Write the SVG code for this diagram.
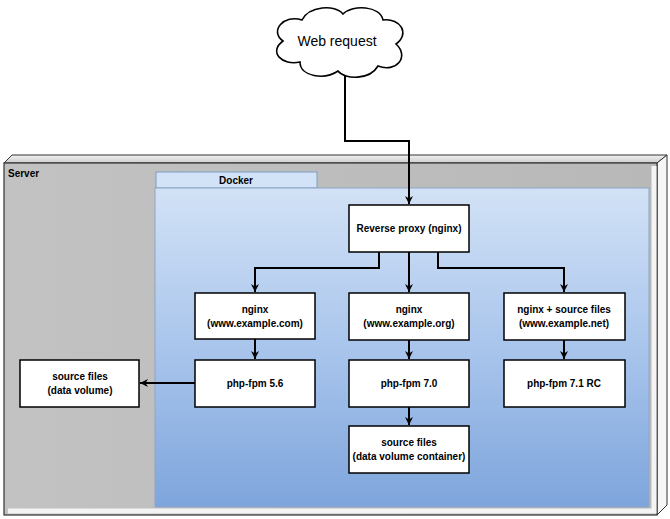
<svg xmlns="http://www.w3.org/2000/svg" width="670" height="519" viewBox="0 0 670 519">
<defs>
<linearGradient id="gServer" x1="0" y1="0" x2="1" y2="0">
<stop offset="0" stop-color="#c2c2c2"/><stop offset="1" stop-color="#b8b8b8"/>
</linearGradient>
<linearGradient id="gTop" x1="0" y1="0" x2="0" y2="1">
<stop offset="0" stop-color="#f2f2f2"/><stop offset="1" stop-color="#cdcdcd"/>
</linearGradient>
<linearGradient id="gDocker" x1="0" y1="0" x2="0" y2="1">
<stop offset="0" stop-color="#d2e2f6"/><stop offset="0.5" stop-color="#a9c5ec"/><stop offset="1" stop-color="#7ea5dc"/>
</linearGradient>
<marker id="arr" viewBox="0 0 10 10" refX="10" refY="5" markerWidth="8" markerHeight="8" markerUnits="userSpaceOnUse" orient="auto">
<path d="M0,0 L10,5 L0,10 L3,5 Z" fill="#000"/>
</marker>
<style>
.box{fill:#fff;stroke:#000;stroke-width:1.5}
.t{font-family:"Liberation Sans",Arial,sans-serif;font-size:10px;font-weight:bold;fill:#000;text-anchor:middle}
.c{fill:none;stroke:#000;stroke-width:2}
</style>
</defs>

<g id="server">
<polygon points="4,163 12,155 667,155 657,163" fill="url(#gTop)" stroke="#333" stroke-width="1"/>
<polygon points="657,163 667,155 667,505 657,515" fill="#f6f6f6" stroke="#333" stroke-width="1"/>
<rect x="4" y="163" width="653" height="352" fill="url(#gServer)" stroke="#333" stroke-width="1.2"/>
<polyline points="654,166 654,511 8,511" fill="none" stroke="#f4f4f4" stroke-width="5"/>
<text x="8" y="177" style="font-family:'Liberation Sans',Arial,sans-serif;font-size:10px;font-weight:bold">Server</text>
</g>

<g id="docker">
<rect x="156" y="172" width="161" height="16" fill="#d3e3f7" stroke="#7f9bbf" stroke-width="1"/>
<rect x="155" y="188" width="494" height="319" fill="url(#gDocker)" stroke="#8ea6c4" stroke-width="1"/>
<text class="t" x="236" y="184">Docker</text>
</g>

<g id="web-request">
<path d="M300,62 C282,66 268,52 283,41 C269,31 284,14 302,20 C309,6 335,4 343,14 C353,4 380,6 383,20 C401,18 410,34 396,44 C410,57 396,73 378,66 C370,80 345,80 338,71 C325,80 300,77 300,62 Z" fill="#fff" stroke="#000" stroke-width="1.6"/>
<text x="337" y="46" style="font-family:'Liberation Sans',Arial,sans-serif;font-size:14px;text-anchor:middle">Web request</text>
</g>

<g id="reverse-proxy">
<rect class="box" x="349" y="205" width="120" height="47"/>
<text class="t" x="409" y="232">Reverse proxy (nginx)</text>
</g>

<g id="nginx-com">
<rect class="box" x="195" y="293" width="120" height="46"/>
<text class="t" x="255" y="313">nginx</text>
<text class="t" x="255" y="327">(www.example.com)</text>
</g>

<g id="nginx-org">
<rect class="box" x="349" y="293" width="120" height="47"/>
<text class="t" x="409" y="313">nginx</text>
<text class="t" x="409" y="327">(www.example.org)</text>
</g>

<g id="nginx-net">
<rect class="box" x="504" y="293" width="121" height="47"/>
<text class="t" x="564" y="313">nginx + source files</text>
<text class="t" x="564" y="327">(www.example.net)</text>
</g>

<g id="php56">
<rect class="box" x="195" y="360" width="120" height="47"/>
<text class="t" x="255" y="387">php-fpm 5.6</text>
</g>

<g id="php70">
<rect class="box" x="349" y="360" width="120" height="47"/>
<text class="t" x="409" y="387">php-fpm 7.0</text>
</g>

<g id="php71">
<rect class="box" x="504" y="360" width="121" height="47"/>
<text class="t" x="564" y="387">php-fpm 7.1 RC</text>
</g>

<g id="source-volume">
<rect class="box" x="20" y="360" width="119" height="47"/>
<text class="t" x="80" y="380">source files</text>
<text class="t" x="80" y="394">(data volume)</text>
</g>

<g id="source-container">
<rect class="box" x="349" y="426" width="120" height="47"/>
<text class="t" x="409" y="446">source files</text>
<text class="t" x="409" y="460">(data volume container)</text>
</g>

<g id="connectors">
<polyline class="c" points="345,75 345,141 409,141 409,204" marker-end="url(#arr)"/>
<polyline class="c" points="379,252 379,268 255,268 255,292" marker-end="url(#arr)"/>
<polyline class="c" points="409,252 409,292" marker-end="url(#arr)"/>
<polyline class="c" points="438,252 438,268 564,268 564,292" marker-end="url(#arr)"/>
<polyline class="c" points="255,339 255,359" marker-end="url(#arr)"/>
<polyline class="c" points="409,340 409,359" marker-end="url(#arr)"/>
<polyline class="c" points="564,340 564,359" marker-end="url(#arr)"/>
<polyline class="c" points="409,407 409,425" marker-end="url(#arr)"/>
<polyline class="c" points="195,383 140,383" marker-end="url(#arr)"/>
</g>
</svg>
